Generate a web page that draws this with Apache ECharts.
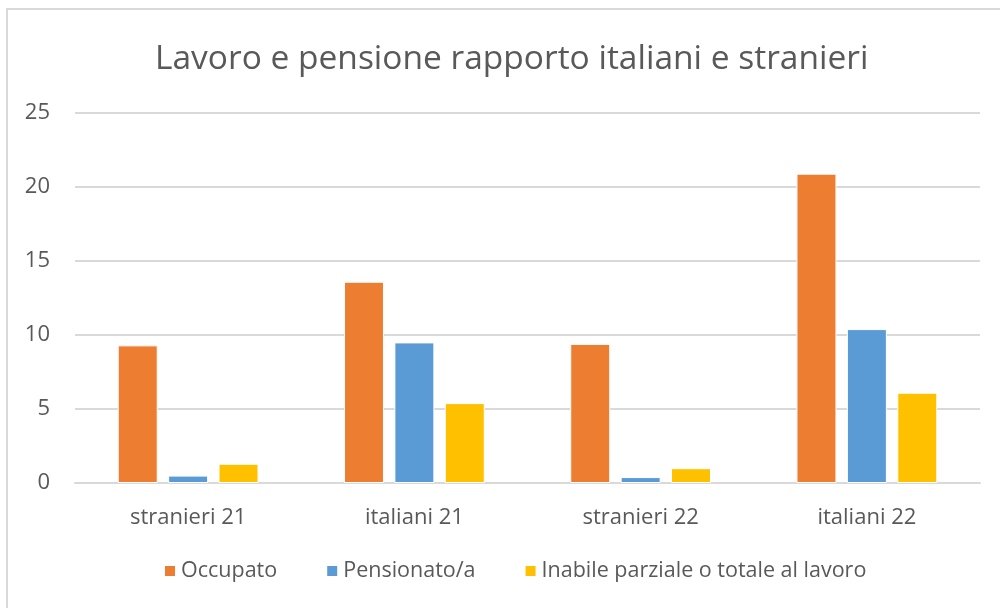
<!DOCTYPE html>
<html>
<head>
<meta charset="utf-8">
<script src="https://cdn.jsdelivr.net/npm/echarts@6/dist/echarts.min.js"></script>
<style>html,body{margin:0;padding:0;background:#fff;}#main{width:1000px;height:608px;}</style>
</head>
<body>
<div id="main"></div>
<script>
const categories = ['stranieri 21', 'italiani 21', 'stranieri 22', 'italiani 22'];
const occupato = [9.3, 13.6, 9.4, 20.9];
const pensionato = [0.5, 9.5, 0.4, 10.4];
const inabile = [1.3, 5.4, 1.0, 6.1];
const yTicks = [0, 5, 10, 15, 20, 25];

const FONT = 'Open Sans';
const chart = echarts.init(document.getElementById('main'), null, {renderer: 'canvas'});
chart.setOption({
  animation: false,
  backgroundColor: '#ffffff',
  graphic: [{
    type: 'rect', shape: {x: 7, y: 9, width: 1010, height: 700},
    style: {fill: 'none', stroke: '#d9d9d9', lineWidth: 2}, silent: true, z: -1
  }],
  title: {
    text: 'Lavoro e pensione rapporto italiani e stranieri',
    left: 150, top: 37,
    textStyle: {fontFamily: FONT, fontSize: 33.5, fontWeight: 'normal', color: '#595959'}
  },
  legend: {
    bottom: 21, left: 158,
    itemWidth: 12, itemHeight: 12, itemGap: 48, icon: 'rect',
    textStyle: {fontFamily: FONT, fontSize: 21.5, color: '#595959'},
    data: ['Occupato', 'Pensionato/a', 'Inabile parziale o totale al lavoro']
  },
  grid: {left: 75, right: 20, top: 113, bottom: 125, containLabel: false},
  xAxis: {
    type: 'category', data: categories,
    axisTick: {show: false},
    axisLine: {show: true, lineStyle: {color: '#d9d9d9', width: 2}},
    axisLabel: {fontFamily: FONT, fontSize: 22, color: '#595959', margin: 24}
  },
  yAxis: {
    type: 'value', min: yTicks[0], max: yTicks[yTicks.length - 1], interval: 5,
    axisLine: {show: false}, axisTick: {show: false},
    splitLine: {lineStyle: {color: '#d9d9d9', width: 2}},
    axisLabel: {fontFamily: FONT, fontSize: 22, color: '#595959', margin: 25}
  },
  series: [
    {name: 'Occupato', type: 'bar', data: occupato, barWidth: 40, barGap: '26%',
     itemStyle: {color: '#ed7d31', borderColor: '#ffffff', borderWidth: 1}},
    {name: 'Pensionato/a', type: 'bar', data: pensionato, barWidth: 40, barGap: '26%',
     itemStyle: {color: '#5b9bd5', borderColor: '#ffffff', borderWidth: 1}},
    {name: 'Inabile parziale o totale al lavoro', type: 'bar', data: inabile, barWidth: 40, barGap: '26%',
     itemStyle: {color: '#ffc000', borderColor: '#ffffff', borderWidth: 1}}
  ]
});
</script>
</body>
</html>
